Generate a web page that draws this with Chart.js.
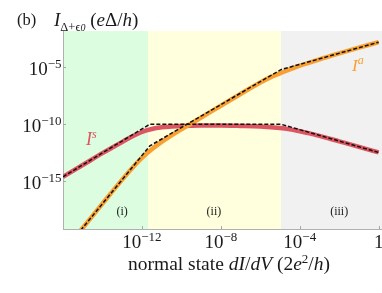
<!DOCTYPE html>
<html><head><meta charset="utf-8">
<script src="https://cdn.jsdelivr.net/npm/chart.js@4.4.1/dist/chart.umd.min.js"></script>
<style>
html,body{margin:0;padding:0;background:#fff;}
#wrap{position:relative;width:382px;height:293px;overflow:hidden;}
#c{position:absolute;left:0;top:0;}
.t{position:absolute;font-family:"Liberation Serif","Times New Roman",serif;line-height:1;white-space:nowrap;color:#1a1a1a;}
.sup{position:relative;}
</style></head><body>
<div id="wrap">
<canvas id="c" width="382" height="293"></canvas>
<div class="t" style="left:17px;top:12px;font-size:16.5px">(b)</div>
<div class="t" style="left:54px;top:10px;font-size:19px"><i>I</i><span class="sup" style="font-size:12.5px;top:5px">Δ+ϵ<i style="font-size:10px">0</i></span> (<i>e</i>Δ/<i>h</i>)</div>
<div class="t" style="left:128px;top:254px;font-size:19.5px">normal state <i>dI</i>/<i>dV</i> (2<i>e</i><span class="sup" style="font-size:13px;top:-7px">2</span>/<i>h</i>)</div>
<div class="t" style="left:86px;top:130px;font-size:18px;color:#dc5560"><i>I</i><span class="sup" style="font-size:12px;top:-7px"><i>s</i></span></div>
<div class="t" style="left:352px;top:57px;font-size:17px;color:#f8a032"><i>I</i><span class="sup" style="font-size:12px;top:-7px"><i>a</i></span></div>
<div id="regions"></div>
</div>
<script>
// All values are log10 of the plotted quantity
// x: normal state dI/dV (2e^2/h), y: I_{Δ+ε0} (eΔ/h)
const isX = [-16,-15,-14,-13,-12.5,-12,-11.5,-11,-10.5,-10,-9,-8,-7,-6,-5,-4.5,-4,-3.5,-3,-2,-1,0];
const isY = [-14.6,-13.57,-12.53,-11.55,-11.08,-10.68,-10.42,-10.27,-10.2,-10.15,-10.12,-10.12,-10.15,-10.2,-10.33,-10.45,-10.62,-10.8,-11.02,-11.5,-11.98,-12.47];
const iaX = [-15.2,-14,-13,-12.5,-12,-11.5,-11,-10.5,-10,-9,-8,-7,-6,-5.5,-5,-4.5,-4,-3,-2,-1,0];
const iaY = [-19.5,-16.95,-14.85,-13.85,-12.95,-12.2,-11.55,-10.98,-10.45,-9.42,-8.38,-7.35,-6.35,-5.9,-5.55,-5.2,-4.88,-4.32,-3.8,-3.3,-2.82];
const isAsymX = [-16,-11.6,-4.95,0];
const isAsymY = [-14.6,-10.0,-10.0,-12.47];
const iaAsymX = [-15.3,-11.6,-4.95,0];
const iaAsymY = [-19.7,-11.9,-5.22,-2.82];
const regionEdges = [-16,-11.68,-4.95,0.17];
const regionNames = ['(i)','(ii)','(iii)'];
const regionLabelX = [-13.0,-8.35,-2.0];
const regionColors = ['#ddfde0','#ffffdd','#f1f1f1'];
const xTicks = [-12,-8,-4,0];
const yTicks = [-15,-10,-5];
const xRange = [-16,0.17];
const yRange = [-19.17,-1.84];

const pts = (xs, ys) => xs.map((x,i)=>({x:Math.pow(10,x), y:Math.pow(10,ys[i])}));
const RED = '#dc5560', ORANGE = '#f8a032';
const F_MAIN = '19px "Liberation Serif", serif', F_SUP = '13px "Liberation Serif", serif';

function drawPow(ctx, e, anchorX, baseY, align){
  if(e===0){
    ctx.font = F_MAIN; ctx.textAlign = align==='right'?'right':'center';
    ctx.fillText('1', anchorX, baseY); return;
  }
  ctx.textAlign='left';
  ctx.font = F_MAIN; const w1 = ctx.measureText('10').width;
  const s = '\u2212' + Math.abs(e);
  ctx.font = F_SUP; const w2 = ctx.measureText(s).width;
  const start = align==='right' ? anchorX - w1 - w2 : anchorX - (w1+w2)/2;
  ctx.font = F_MAIN; ctx.fillText('10', start, baseY);
  ctx.font = F_SUP; ctx.fillText(s, start+w1, baseY-7);
}

const decor = {
  id:'decor',
  beforeDraw(chart){
    const {ctx, chartArea:a, scales:{x}} = chart;
    ctx.save();
    for(let i=0;i<regionColors.length;i++){
      const l = x.getPixelForValue(Math.pow(10,regionEdges[i]));
      const r = x.getPixelForValue(Math.pow(10,regionEdges[i+1]));
      ctx.fillStyle = regionColors[i];
      ctx.fillRect(l, a.top, r-l, a.bottom-a.top);
    }
    ctx.restore();
  },
  afterDraw(chart){
    const {ctx, chartArea:a, scales:{x,y}} = chart;
    ctx.save();
    ctx.strokeStyle = '#a8a8a8'; ctx.lineWidth = 1;
    ctx.beginPath();
    x.ticks.forEach(t=>{ const p = Math.round(x.getPixelForValue(t.value))+0.5; ctx.moveTo(p,a.bottom); ctx.lineTo(p,a.bottom-3); });
    y.ticks.forEach(t=>{ const p = Math.round(y.getPixelForValue(t.value))+0.5; ctx.moveTo(a.left,p); ctx.lineTo(a.left+3,p); });
    ctx.stroke();
    ctx.fillStyle = '#1a1a1a'; ctx.textBaseline = 'alphabetic';
    x.ticks.forEach(t=>{ drawPow(ctx, Math.round(Math.log10(t.value)), x.getPixelForValue(t.value), a.bottom+19, 'center'); });
    y.ticks.forEach(t=>{ drawPow(ctx, Math.round(Math.log10(t.value)), a.left-1.5, y.getPixelForValue(t.value)+7.5, 'right'); });
    ctx.restore();
  }
};

const common = {pointRadius:0, fill:false};
const chart = new Chart(document.getElementById('c'), {
  type:'line',
  data:{datasets:[
    {...common, data:pts(iaAsymX, iaAsymY), borderColor:'#111', borderWidth:1.5, borderDash:[4,2], order:0},
    {...common, data:pts(isAsymX, isAsymY), borderColor:'#111', borderWidth:1.5, borderDash:[4,2], order:1},
    {...common, data:pts(iaX, iaY), borderColor:ORANGE, borderWidth:4.5, cubicInterpolationMode:'monotone', order:2},
    {...common, data:pts(isX, isY), borderColor:RED, borderWidth:4.5, cubicInterpolationMode:'monotone', order:3}
  ]},
  options:{
    responsive:false, animation:false, devicePixelRatio:1,
    layout:{padding:{left:0,right:0,top:31,bottom:0}},
    plugins:{legend:{display:false}, tooltip:{enabled:false}},
    scales:{
      x:{type:'logarithmic', position:'bottom', min:Math.pow(10,xRange[0]), max:Math.pow(10,xRange[1]),
        grid:{display:false}, border:{display:true,color:'#b0b0b0',width:1},
        afterBuildTicks:s=>{ s.ticks = xTicks.map(e=>({value:Math.pow(10,e)})); },
        afterFit:s=>{ s.height = 64; },
        ticks:{display:false}},
      y:{type:'logarithmic', position:'left', min:Math.pow(10,yRange[0]), max:Math.pow(10,yRange[1]),
        grid:{display:false}, border:{display:true,color:'#b0b0b0',width:1},
        afterBuildTicks:s=>{ s.ticks = yTicks.map(e=>({value:Math.pow(10,e)})); },
        afterFit:s=>{ s.width = 63; },
        ticks:{display:false}}
    }
  },
  plugins:[decor]
});

const reg = document.getElementById('regions');
regionNames.forEach((n,i)=>{
  const d = document.createElement('div');
  d.className='t'; d.textContent=n;
  d.style.fontSize='12px';
  d.style.left = chart.scales.x.getPixelForValue(Math.pow(10,regionLabelX[i]))+'px';
  d.style.top = '205px';
  d.style.transform='translateX(-50%)';
  reg.appendChild(d);
});
</script>
</body></html>
